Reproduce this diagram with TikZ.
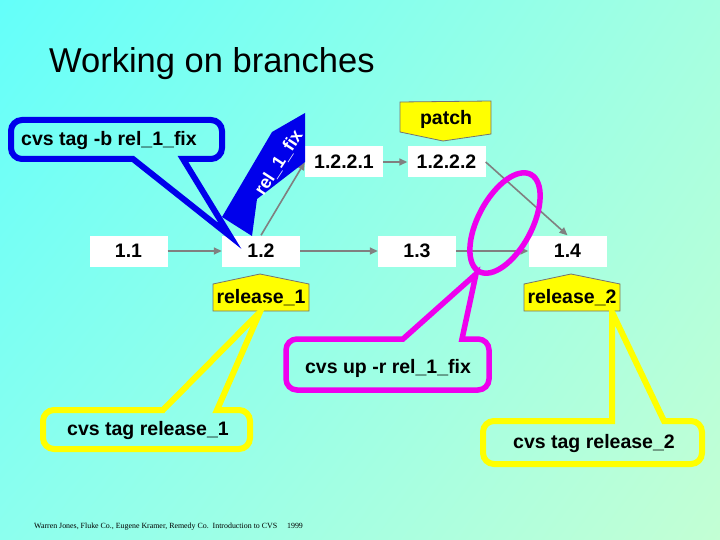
\documentclass[tikz,border=0pt]{standalone}
\usepackage{fontspec}
\setmainfont{Liberation Sans}
\newfontfamily\footfont{Liberation Serif}
\usetikzlibrary{arrows.meta,shadings}
\definecolor{cvsblue}{RGB}{0,0,235}
\definecolor{cvsmag}{RGB}{238,0,238}
\definecolor{cvsyel}{RGB}{255,255,0}
\definecolor{bgUL}{RGB}{100,255,250}
\definecolor{bgUR}{RGB}{165,255,225}
\definecolor{bgLL}{RGB}{140,255,238}
\definecolor{bgLR}{RGB}{195,255,212}
\definecolor{arrgray}{RGB}{128,128,128}
\begin{document}
\begin{tikzpicture}[x=1pt,y=-1pt,
  rev/.style={fill=white,draw=none,minimum width=78pt,minimum height=31pt,inner sep=0pt,
    font=\fontsize{19.5}{22}\selectfont\bfseries},
  conn/.style={draw=arrgray,line width=1.6pt,-{Triangle[length=8pt,width=7pt]}},
  tagshape/.style={fill=cvsyel,draw=black!55,line width=0.8pt},
  tagtext/.style={font=\fontsize{19.5}{22}\selectfont\bfseries,inner sep=0pt},
  callout/.style={line width=6pt,line join=miter},
  ctext/.style={font=\fontsize{19.5}{22}\selectfont\bfseries,inner sep=0pt}]
\useasboundingbox (0,0) rectangle (720,540);
\shade[upper left=bgUL,upper right=bgUR,lower left=bgLL,lower right=bgLR] (0,0) rectangle (720,540);

% title
\node[anchor=west,inner sep=0pt,font=\fontsize{34.5}{40}\selectfont] (title) at (49,64) {Working on branches};

% revision boxes
\node[rev] (n11) at (128.5,251) {1.1};
\node[rev] (n12) at (261,251) {1.2};
\node[rev] (n13) at (417,251) {1.3};
\node[rev] (n14) at (567.5,251) {1.4};
\node[rev] (n1221) at (344,162) {1.2.2.1};
\node[rev] (n1222) at (446.5,162) {1.2.2.2};

% connectors
\draw[conn] (n11.east) -- (n12.west);
\draw[conn] (n12.east) -- (n13.west);
\draw[conn] (n13.east) -- (n14.west);
\draw[conn] (n1221.east) -- (n1222.west);
\draw[conn] (n12.north) -- (n1221.west);
\draw[conn] (n1222.east) -- (n14.north);

% tags
\draw[tagshape] (400,102) -- (491,101) -- (491,134) -- (443,141) -- (400,132) -- cycle;
\node[tagtext] (patch) at (446,119) {patch};
\draw[tagshape] (213,284) -- (260,274) -- (309,284) -- (309,311) -- (213,311) -- cycle;
\node[tagtext] (rel1) at (261,298) {release\_1};
\draw[tagshape] (524,284) -- (571,274) -- (620,284) -- (620,311) -- (524,311) -- cycle;
\node[tagtext] (rel2) at (572,298) {release\_2};

% blue branch tag
\fill[cvsblue] (305,113) -- (305,162) -- (257,199) -- (252,236) -- (222,217) -- (272,132) -- cycle;
\node[font=\fontsize{18}{20}\selectfont\bfseries,inner sep=0pt,text=white,rotate=57] (brtag) at (279,163) {rel\_1\_fix};

% blue callout
\draw[callout,draw=cvsblue] (133,159) [sharp corners] -- (230,236) -- (183,159)
  [rounded corners=11pt] -- (222,159) -- (222,120) -- (11,120) -- (11,159) [sharp corners] -- cycle;
\node[ctext,anchor=west] (cbtext) at (21,141) {cvs tag -b rel\_1\_fix};

% magenta ellipse and callout
\draw[cvsmag,line width=5.5pt,rotate around={62:(505,223)}] (505,223) ellipse [x radius=55pt,y radius=27pt];
\draw[callout,draw=cvsmag,line width=5.5pt] (403,339) [sharp corners] -- (476,274) -- (462,339)
  [rounded corners=11pt] -- (489,339) -- (489,390) -- (286,390) -- (286,339) [sharp corners] -- cycle;
\node[ctext] (cmtext) at (388,368) {cvs up -r rel\_1\_fix};

% yellow callouts
\draw[callout,draw=cvsyel] (163,410) [sharp corners] -- (260,312) -- (217,410)
  [rounded corners=11pt] -- (250,410) -- (250,449) -- (43,449) -- (43,410) [sharp corners] -- cycle;
\node[ctext] (cy1text) at (148,430) {cvs tag release\_1};
\draw[callout,draw=cvsyel] (612,421) [sharp corners] -- (612,312) -- (664,421)
  [rounded corners=11pt] -- (702,421) -- (702,464) -- (483,464) -- (483,421) [sharp corners] -- cycle;
\node[ctext] (cy2text) at (594,443) {cvs tag release\_2};

% footer
\node[anchor=west,inner sep=0pt,font=\footfont\fontsize{7.9}{9}\selectfont] (foot) at (34,527) {Warren Jones, Fluke Co., Eugene Kramer, Remedy Co.\ \ Introduction to CVS\quad\ 1999};
\end{tikzpicture}
\end{document}
